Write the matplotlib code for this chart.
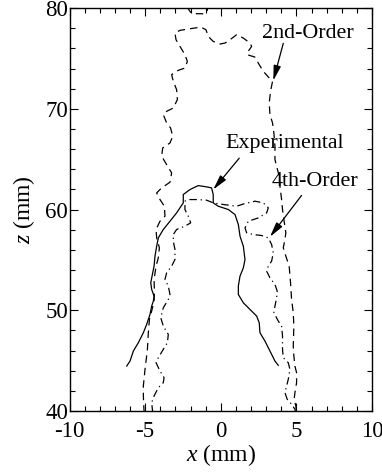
import numpy as np
import matplotlib
matplotlib.use("Agg")
import matplotlib.pyplot as plt

plt.rcParams['font.family'] = ['Liberation Serif', 'DejaVu Serif']
plt.rcParams['mathtext.fontset'] = 'custom'
plt.rcParams['mathtext.it'] = 'Liberation Serif:italic'
plt.rcParams['mathtext.rm'] = 'Liberation Serif'
plt.rcParams['axes.unicode_minus'] = False

# Experimental flame contour (solid)
exp_x = [-6.22, -6.00, -5.78, -5.45, -5.12, -4.90, -4.68, -4.57, -4.46, -4.41, -4.57, -4.63,
         -4.50, -4.41, -4.35, -4.24, -4.13, -3.80, -3.36, -2.92, -2.48, -2.48, -2.04, -1.49,
         -0.94, -0.61, -0.50, -0.50, -0.17, 0.50, 0.94, 1.16, 1.27, 1.49, 1.60, 1.49, 1.27,
         1.16, 1.16, 1.49, 1.93, 2.37, 2.54, 2.59, 2.92, 3.14, 3.36, 3.58, 3.80]
exp_z = [44.46, 44.96, 45.95, 46.78, 47.77, 48.60, 49.59, 50.41, 50.91, 51.40, 52.07, 52.73,
         53.72, 54.38, 55.37, 56.36, 57.19, 58.02, 58.84, 59.67, 60.66, 61.49, 61.98, 62.38,
         62.25, 62.15, 61.49, 60.66, 60.33, 60.00, 59.50, 58.51, 57.36, 56.36, 55.04, 54.21, 53.39,
         52.40, 51.57, 50.74, 50.08, 49.42, 48.76, 47.77, 46.94, 46.28, 45.62, 44.96, 44.53]

# 2nd-order model contour (dashed)
o2_x = [-5.07, -5.12, -5.12, -5.01, -4.85, -4.79, -4.72, -4.57, -4.41, -4.39, -4.41, -4.28,
        -4.13, -4.06, -4.24, -4.28, -4.02, -3.69, -3.73, -4.02, -4.24, -3.91, -3.36, -3.25,
        -3.58, -3.91, -3.84, -3.36, -3.18, -3.32, -3.58, -3.80, -3.58, -3.14, -2.87, -2.92,
        -3.14, -3.25, -2.81, -2.37, -2.21, -2.37, -2.70, -2.96, -3.03, -2.70, -2.15, -1.60,
        -1.27, -0.98, -0.83, -0.50, -0.06, 0.28, 0.61, 1.05, 1.49, 1.93, 2.04, 1.81, 1.75,
        2.25, 2.54, 2.81, 3.14, 3.42, 3.29, 3.20, 3.25, 3.42, 3.51, 3.58, 3.58, 3.69, 3.86,
        3.91, 4.02, 4.08, 4.17, 4.30, 4.24, 4.13, 4.30, 4.52, 4.61, 4.68, 4.79, 4.83, 4.79,
        4.83, 4.90, 5.01, 5.01, 4.90, 4.85, 4.96, 5.01,
        np.nan, -2.26, -1.99, -1.60, -1.16, -0.94, -0.83]
o2_z = [39.83, 41.49, 42.48, 44.13, 46.12, 47.77, 49.09, 49.92, 50.91, 51.90, 53.06, 54.38,
        55.21, 56.20, 57.19, 58.02, 58.84, 59.34, 60.33, 60.99, 61.65, 62.15, 62.71, 63.64,
        64.46, 65.29, 66.12, 66.61, 67.27, 68.10, 68.60, 69.42, 69.75, 70.08, 70.91, 71.90,
        72.73, 73.39, 73.82, 74.05, 74.71, 75.37, 76.20, 76.86, 77.52, 77.79, 77.92, 78.05,
        78.08, 77.85, 77.19, 76.69, 76.43, 76.53, 76.86, 77.36, 77.02, 76.53, 76.20, 75.70, 75.37,
        75.14, 74.38, 73.72, 73.16, 72.73, 71.74, 70.58, 69.42, 68.60, 67.60, 66.28, 64.96, 64.30, 63.31,
        62.31, 60.99, 60.00, 59.01, 57.69, 57.02, 56.20, 55.37, 54.38, 52.73, 51.07, 49.75, 48.43, 46.45,
        45.45, 44.46, 43.80, 42.81, 41.82, 41.16, 40.50, 39.83,
        np.nan, 80.17, 79.57, 79.44, 79.44, 79.57, 80.17]

# 4th-order model contour (dash-dot)
o4_x = [-4.50, -4.57, -4.41, -4.13, -3.80, -3.75, -4.02, -4.28, -4.13, -3.80, -3.53, -3.47,
        -3.80, -3.97, -3.80, -3.47, -3.36, -3.47, -3.69, -3.58, -3.25, -3.03, -3.03, -3.14,
        -3.14, -2.92, -2.37, -1.99, -2.15, -2.37, -2.37, -2.15, -1.60, -0.94, -0.50, 0.17,
        1.05, 1.60, 2.26, 2.81, 3.14, 3.03, 2.48, 1.82, 1.60, 1.71, 2.15, 2.70, 3.14, 3.36,
        3.47, 3.36, 3.14, 3.03, 3.25, 3.58, 3.73, 3.69, 3.58, 3.51, 3.80, 4.02, 4.08, 4.08,
        4.13, 4.46, 4.57, 4.46, 4.35, 4.24, 4.39, 4.68, 4.90, 4.96]
o4_z = [39.83, 40.83, 41.49, 42.31, 42.81, 43.31, 43.97, 44.79, 45.29, 46.12, 46.78, 47.60,
        48.43, 49.26, 50.25, 51.07, 51.57, 52.40, 53.06, 53.72, 54.38, 55.04, 56.03, 56.86,
        57.52, 58.02, 58.35, 58.68, 59.34, 60.00, 60.83, 60.99, 60.99, 60.93, 60.66, 60.50,
        60.33, 60.60, 60.83, 60.66, 60.17, 59.67, 59.17, 58.84, 58.18, 57.69, 57.52, 57.42, 57.19, 56.53,
        55.70, 54.88, 54.38, 53.88, 53.22, 52.56, 51.90, 51.24, 50.41, 49.75, 48.93, 48.43, 47.44, 46.12,
        45.29, 44.79, 44.13, 43.14, 42.48, 41.82, 41.16, 40.66, 40.17, 39.83]

labels = ["2nd-Order", "Experimental", "4th-Order"]
label_xy = [(5.78, 77.5), (4.24, 66.6), (6.22, 62.8)]
arrow_tail = [(4.13, 76.5), (1.22, 65.1), (5.34, 61.4)]
arrow_head = [(3.47, 72.8), (-0.50, 61.98), (3.25, 57.29)]

xticks = [-10, -5, 0, 5, 10]
zticks = [40, 50, 60, 70, 80]

fig = plt.figure(figsize=(3.82, 4.76), dpi=100)
ax = fig.add_axes([0.182, 0.1366, 0.792, 0.8464])

lw = 0.9
ax.plot(exp_x, exp_z, color='black', lw=lw, linestyle='-')
ax.plot(o2_x, o2_z, color='black', lw=lw, linestyle=(0, (6, 4)))
ax.plot(o4_x, o4_z, color='black', lw=lw, linestyle=(0, (6, 3, 1, 3)))

for lab, (tx, ty), (ax0, ay0), (hx, hy) in zip(labels, label_xy, arrow_tail, arrow_head):
    ax.text(tx, ty, lab, ha='center', va='center', fontsize=15.8)
    ax.annotate('', xy=(hx, hy), xytext=(ax0, ay0),
                arrowprops=dict(arrowstyle='-|>,head_length=0.9,head_width=0.22',
                                color='black', lw=0.9, shrinkA=0, shrinkB=0))

ax.set_xlim(-10, 10)
ax.set_ylim(40, 80)
ax.set_xticks(xticks)
ax.set_yticks(zticks)
ax.set_xticks(np.arange(-10, 11, 1), minor=True)
ax.set_yticks(np.arange(40, 81, 2), minor=True)
ax.tick_params(which='both', direction='in', top=True, right=True, labelsize=16.5)
ax.tick_params(axis='x', which='major', pad=7)
ax.tick_params(axis='y', which='major', pad=1)
ax.tick_params(which='major', length=5.5, width=0.8)
ax.tick_params(which='minor', length=3.5, width=0.8)
for s in ax.spines.values():
    s.set_linewidth(1.0)

ax.set_xlabel(r'$x$ (mm)', fontsize=17, labelpad=0)
ax.set_ylabel(r'$z$ (mm)', fontsize=17, labelpad=6)

fig.savefig('out.png', dpi=100)
